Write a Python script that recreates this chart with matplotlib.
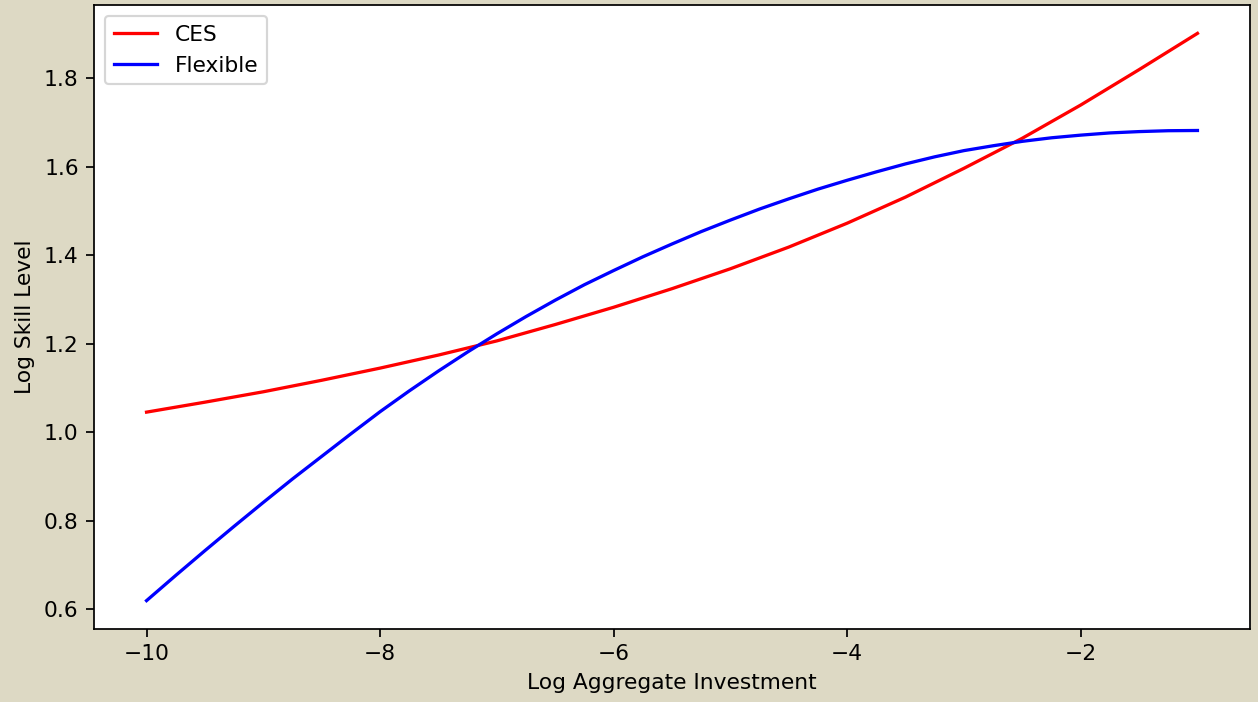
import numpy as np
import matplotlib.pyplot as plt

# log aggregate investment grids
ces_x = [-10.0, -9.5, -9.0, -8.5, -8.0, -7.5, -7.0, -6.5, -6.0, -5.5,
         -5.0, -4.5, -4.0, -3.5, -3.0, -2.5, -2.0, -1.5, -1.0]
flexible_x = [-10.0, -9.75, -9.5, -9.25, -9.0, -8.75, -8.5, -8.25, -8.0, -7.75,
              -7.5, -7.25, -7.0, -6.75, -6.5, -6.25, -6.0, -5.75, -5.5, -5.25,
              -5.0, -4.75, -4.5, -4.25, -4.0, -3.75, -3.5, -3.25, -3.0, -2.75,
              -2.5, -2.25, -2.0, -1.75, -1.5, -1.25, -1.0]

# log skill level for each production technology
ces_skill = [1.046, 1.0685, 1.092, 1.118, 1.1455, 1.175, 1.207, 1.244, 1.283, 1.325,
             1.370, 1.419, 1.473, 1.532, 1.597, 1.665, 1.740, 1.820, 1.902]
flexible_skill = [0.620, 0.677, 0.733, 0.788, 0.842, 0.895, 0.946, 0.997, 1.047, 1.094,
                  1.139, 1.182, 1.223, 1.262, 1.299, 1.334, 1.366, 1.397, 1.426, 1.454,
                  1.480, 1.505, 1.528, 1.550, 1.570, 1.589, 1.607, 1.623, 1.637, 1.648,
                  1.658, 1.666, 1.672, 1.677, 1.680, 1.682, 1.6825]

dpi = 157
fig = plt.figure(figsize=(1258 / dpi, 702 / dpi), dpi=dpi, facecolor='#ddd9c4')
ax = fig.add_axes([94 / 1258, 1 - 629 / 702, (1250 - 94) / 1258, (629 - 5) / 702])

ax.plot(ces_x, ces_skill, color='red', label='CES')
ax.plot(flexible_x, flexible_skill, color='blue', label='Flexible')

ax.set_xlabel('Log Aggregate Investment')
ax.set_ylabel('Log Skill Level')
ax.legend(loc='upper left')

fig.savefig('out.png', dpi=dpi, facecolor=fig.get_facecolor())
